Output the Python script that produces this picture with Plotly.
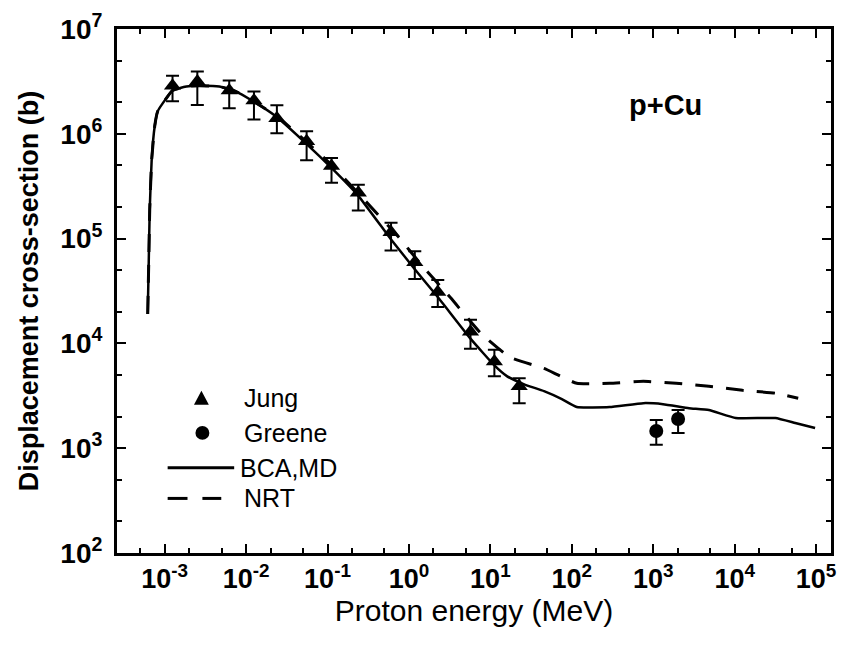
import numpy as np
import plotly.graph_objects as go

# ---------------- data ----------------
jung_E = [1.25e-3, 2.52e-3, 6.21e-3, 1.25e-2, 2.39e-2, 5.54e-2, 0.112, 0.239,
          0.603, 1.18, 2.26, 5.70, 11.2, 22.6]
jung_sigma = [2.88e6, 3.15e6, 2.59e6, 2.08e6, 1.41e6, 8.5e5, 4.93e5, 2.74e5,
              1.15e5, 5.95e4, 3.09e4, 1.29e4, 6.72e3, 3.9e3]
jung_upper = [3.59e6, 3.92e6, 3.22e6, 2.53e6, 1.87e6, 1.06e6, 5.87e5, 3.26e5,
              1.42e5, 7.56e4, 4.02e4, 1.68e4, 8.7e3, 4.65e3]
jung_lower = [2.04e6, 1.88e6, 1.75e6, 1.37e6, 1.01e6, 5.6e5, 3.41e5, 1.85e5,
              7.7e4, 4.11e4, 2.23e4, 8.9e3, 4.85e3, 2.69e3]

greene_E = [1.09e3, 2.02e3]
greene_sigma = [1.46e3, 1.90e3]
greene_upper = [1.86e3, 2.31e3]
greene_lower = [1.08e3, 1.40e3]

bca_E = [6.2e-4, 6.38e-4, 6.56e-4, 6.93e-4, 7.55e-4, 8.22e-4, 9.46e-4, 1.25e-3,
         1.85e-3, 2.67e-3, 4.69e-3, 7.55e-3, 1.18e-2, 2.32e-2, 5.39e-2, 0.112,
         0.239, 0.603, 1.18, 2.26, 5.70, 11.2, 16.1, 26.0, 45.6, 75.5, 115, 291,
         755, 1.32e3, 2.75e3, 4.82e3, 1.03e4, 3.16e4, 5.55e4, 9.72e4]
bca_sigma = [1.91e4, 5.96e4, 1.89e5, 5.62e5, 1.18e6, 1.64e6, 1.95e6, 2.59e6,
             2.83e6, 2.88e6, 2.83e6, 2.53e6, 2.08e6, 1.47e6, 8.15e5, 4.72e5,
             2.56e5, 9.82e4, 5.1e4, 2.77e4, 1.11e4, 6.17e3, 4.85e3, 4.07e3,
             3.50e3, 2.94e3, 2.47e3, 2.47e3, 2.69e3, 2.63e3, 2.41e3, 2.31e3,
             1.94e3, 1.94e3, 1.74e3, 1.56e3]

nrt_E = [6.2e-4, 6.38e-4, 6.56e-4, 6.93e-4, 7.55e-4, 8.22e-4, 9.46e-4, 1.25e-3,
         1.85e-3, 2.67e-3, 4.69e-3, 7.55e-3, 1.18e-2, 2.32e-2, 5.39e-2, 0.112,
         0.275, 0.734, 1.40, 3.25, 7.55, 17.5, 45.6, 115, 291, 755, 1.91e3,
         4.82e3, 1.25e4, 3.16e4, 6.03e4]
nrt_sigma = [1.91e4, 5.96e4, 1.89e5, 5.62e5, 1.18e6, 1.64e6, 1.95e6, 2.59e6,
             2.83e6, 2.88e6, 2.83e6, 2.53e6, 2.08e6, 1.50e6, 8.5e5, 5.05e5,
             2.4e5, 1.05e5, 5.7e4, 2.72e4, 1.26e4, 7.35e3, 5.77e3, 4.16e3,
             4.16e3, 4.35e3, 4.16e3, 3.9e3, 3.57e3, 3.35e3, 3.0e3]

x_tickvals = [1e-3, 1e-2, 1e-1, 1e0, 1e1, 1e2, 1e3, 1e4, 1e5]
x_ticktext = ["10<sup>-3</sup>", "10<sup>-2</sup>", "10<sup>-1</sup>", "10<sup>0</sup>",
              "10<sup>1</sup>", "10<sup>2</sup>", "10<sup>3</sup>", "10<sup>4</sup>",
              "10<sup>5</sup>"]
y_tickvals = [1e2, 1e3, 1e4, 1e5, 1e6, 1e7]
y_ticktext = ["10<sup>2</sup>", "10<sup>3</sup>", "10<sup>4</sup>", "10<sup>5</sup>",
              "10<sup>6</sup>", "10<sup>7</sup>"]

legend_labels = ["Jung", "Greene", "BCA,MD", "NRT"]

# ---------------- figure ----------------
FONT = "Liberation Sans, Arial, sans-serif"
fig = go.Figure()

fig.add_trace(go.Scatter(
    x=bca_E, y=bca_sigma, mode="lines", name="BCA,MD",
    line=dict(color="black", width=2.5, shape="spline", smoothing=0.4),
    showlegend=False))
fig.add_trace(go.Scatter(
    x=nrt_E, y=nrt_sigma, mode="lines", name="NRT",
    line=dict(color="black", width=3, dash="18px,13px", shape="spline", smoothing=0.4),
    showlegend=False))

j_s = np.array(jung_sigma)
fig.add_trace(go.Scatter(
    x=jung_E, y=jung_sigma, mode="markers", name="Jung",
    marker=dict(symbol="triangle-up", size=15, color="black"),
    error_y=dict(type="data", symmetric=False,
                 array=np.array(jung_upper) - j_s,
                 arrayminus=j_s - np.array(jung_lower),
                 color="black", thickness=2, width=6.5),
    showlegend=False))

g_s = np.array(greene_sigma)
fig.add_trace(go.Scatter(
    x=greene_E, y=greene_sigma, mode="markers", name="Greene",
    marker=dict(symbol="circle", size=14, color="black"),
    error_y=dict(type="data", symmetric=False,
                 array=np.array(greene_upper) - g_s,
                 arrayminus=g_s - np.array(greene_lower),
                 color="black", thickness=2, width=6.5),
    showlegend=False))

# plot-area geometry (pixels) used for the hand-drawn legend
L, R, T, B = 117, 836, 25, 553
W, H = 845, 654
def px(x):
    return (x - L) / (R - L)
def py(y):
    return (B - y) / (B - T)

shapes = []
# Jung triangle
cx, cy = 202, 397
shapes.append(dict(type="path", xref="paper", yref="paper",
                   path=f"M {px(cx-7.5)} {py(cy+6.5)} L {px(cx+7.5)} {py(cy+6.5)} L {px(cx)} {py(cy-7.5)} Z",
                   fillcolor="black", line=dict(color="black", width=0)))
# Greene circle
cx, cy = 203, 432
shapes.append(dict(type="circle", xref="paper", yref="paper",
                   x0=px(cx-7), x1=px(cx+7), y0=py(cy+7), y1=py(cy-7),
                   fillcolor="black", line=dict(color="black", width=0)))
# BCA,MD solid line
shapes.append(dict(type="line", xref="paper", yref="paper",
                   x0=px(168), x1=px(235), y0=py(467), y1=py(467),
                   line=dict(color="black", width=3)))
# NRT dashed line (two dashes)
for a, b in [(168, 188), (203, 222)]:
    shapes.append(dict(type="line", xref="paper", yref="paper",
                       x0=px(a), x1=px(b), y0=py(498), y1=py(498),
                       line=dict(color="black", width=3)))

annotations = []
for lab, xx, yy in zip(legend_labels, [243, 243, 239, 243], [397, 432, 467, 498]):
    annotations.append(dict(text=lab, xref="paper", yref="paper",
                            x=px(xx), y=py(yy), xanchor="left", yanchor="middle",
                            showarrow=False, font=dict(family=FONT, size=25, color="black")))
annotations.append(dict(text="<b>p+Cu</b>", xref="paper", yref="paper",
                        x=px(669), y=py(102), xanchor="center", yanchor="middle",
                        showarrow=False, font=dict(family=FONT, size=29, color="black")))

axis_common = dict(
    type="log", showline=True, linecolor="black", linewidth=3, mirror="allticks",
    ticks="inside", ticklen=9, tickwidth=2, tickcolor="black",
    showgrid=False, zeroline=False,
    minor=dict(ticks="inside", ticklen=5, tickwidth=1.5, tickcolor="black", showgrid=False),
)

fig.update_layout(
    width=W, height=H,
    margin=dict(l=L, r=W - R, t=T, b=H - B),
    paper_bgcolor="white", plot_bgcolor="white",
    font=dict(family=FONT, color="black"),
    xaxis=dict(axis_common, range=[-3.585, 5.183],
               tickvals=x_tickvals, ticktext=x_ticktext,
               tickfont=dict(family=FONT, size=27, color="black", weight="bold"),
               title=dict(text="Proton energy (MeV)",
                          font=dict(family=FONT, size=30, color="black"), standoff=6)),
    yaxis=dict(axis_common, range=[2, 7],
               tickvals=y_tickvals, ticktext=y_ticktext, ticklabelstandoff=6,
               tickfont=dict(family=FONT, size=28, color="black", weight="bold"),
               title=dict(text="Displacement cross-section (b)",
                          font=dict(family=FONT, size=27, color="black", weight="bold"), standoff=14)),
    shapes=shapes, annotations=annotations,
    showlegend=False,
)

fig.write_html("out.html")
